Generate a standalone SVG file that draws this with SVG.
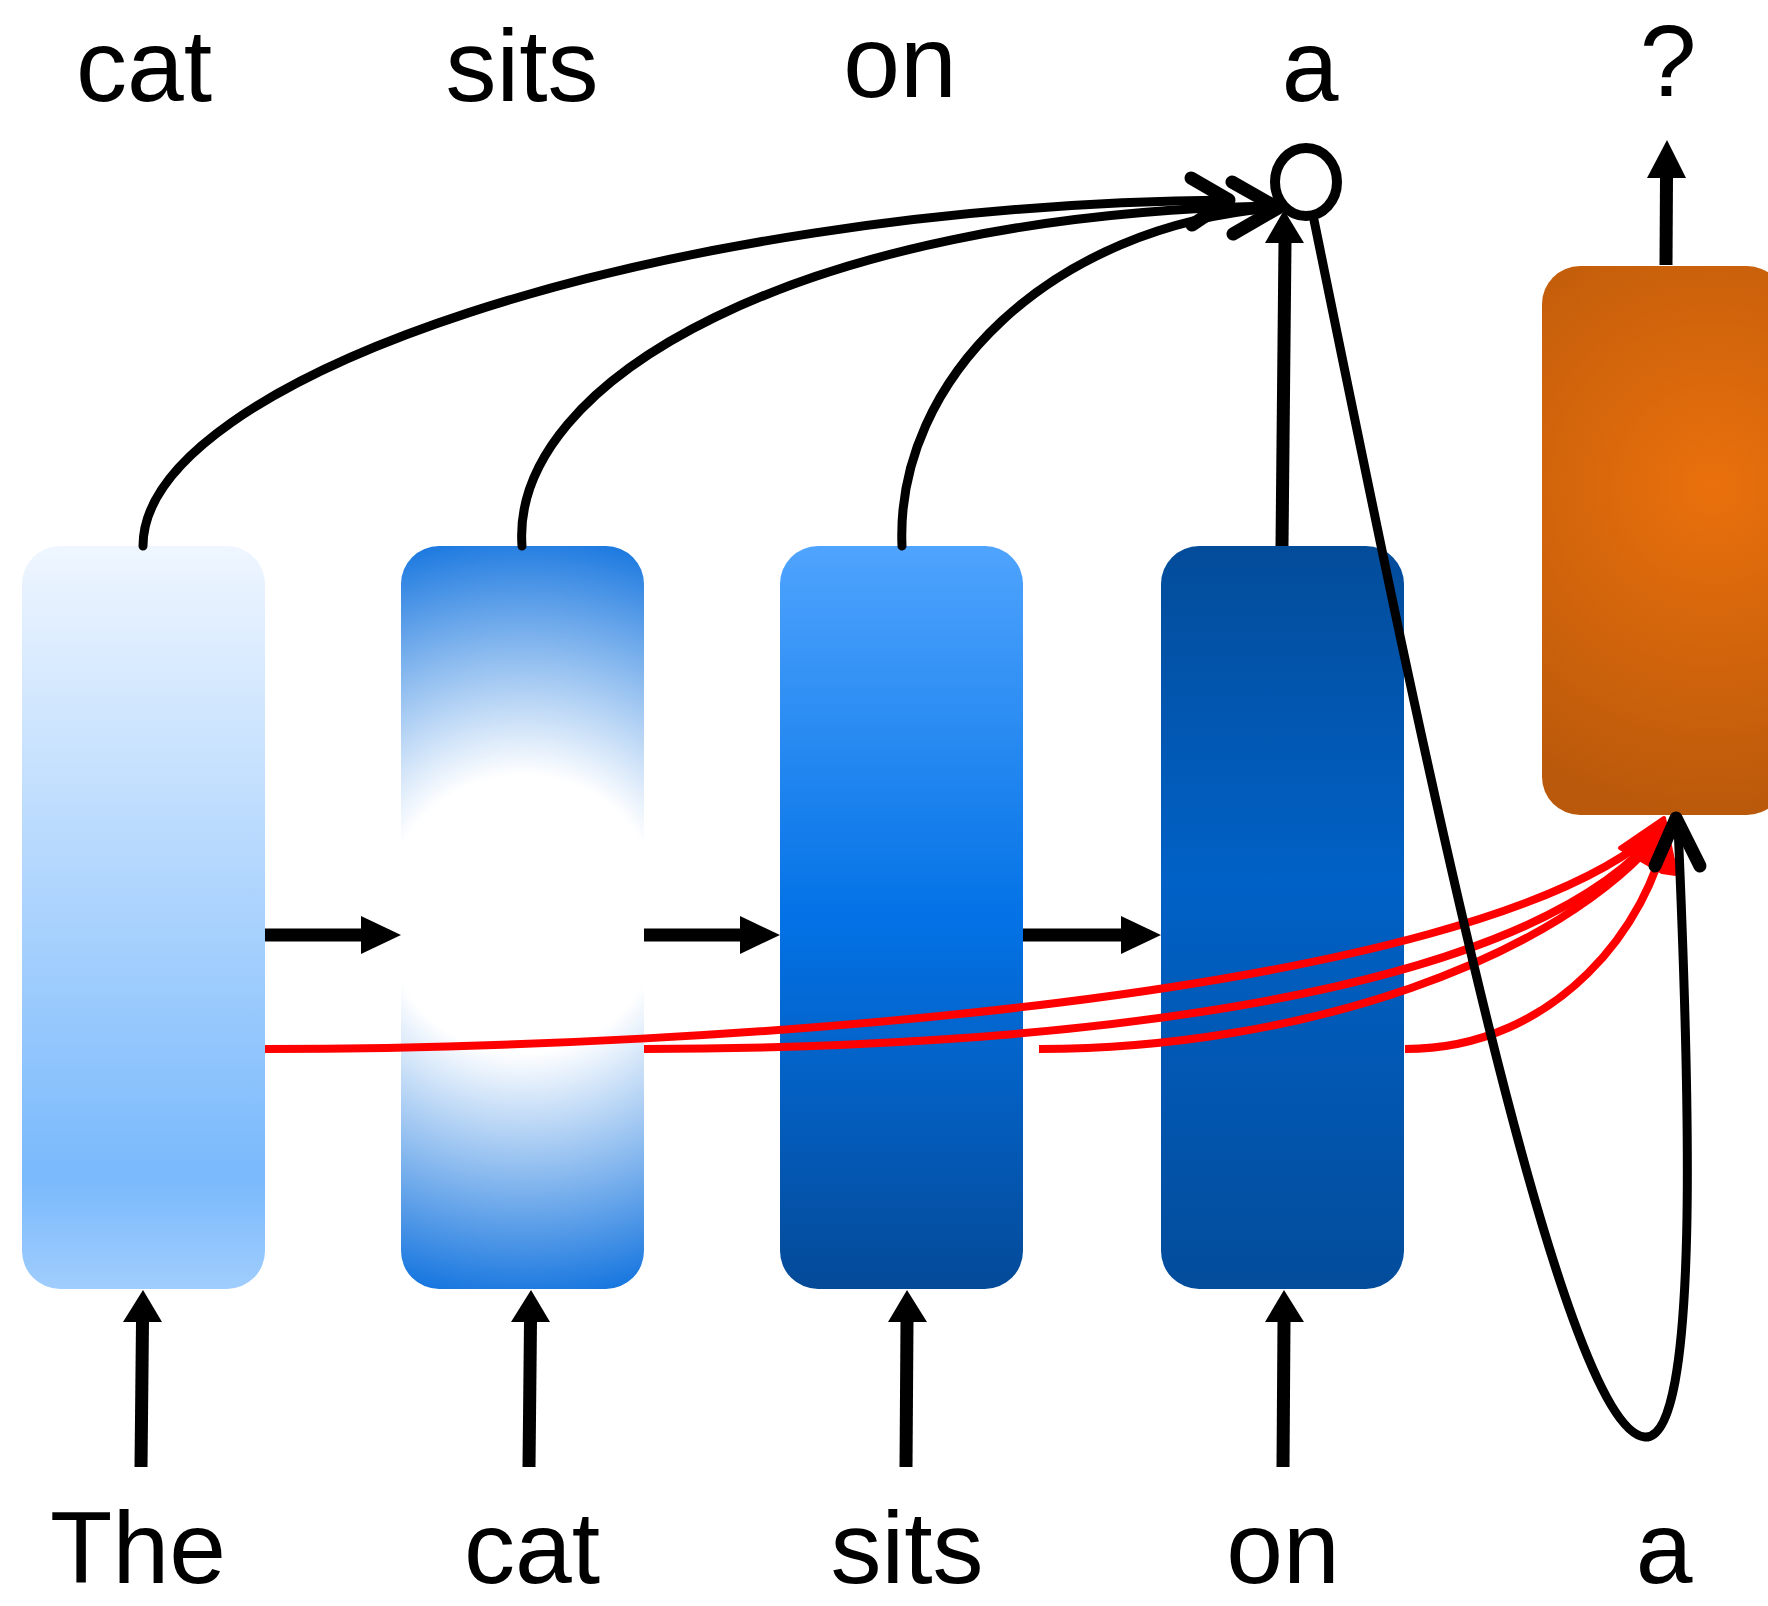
<svg xmlns="http://www.w3.org/2000/svg" width="1768" height="1606" viewBox="0 0 1768 1606">
<defs>
<linearGradient id="g1" x1="0" y1="0" x2="0" y2="1">
<stop offset="0" stop-color="#EFF6FF"/>
<stop offset="0.85" stop-color="#79B9FC"/>
<stop offset="1" stop-color="#A0CDFD"/>
</linearGradient>
<radialGradient id="g2" gradientUnits="userSpaceOnUse" cx="523" cy="914" r="385">
<stop offset="0" stop-color="#FFFFFF"/>
<stop offset="0.36" stop-color="#FFFFFF"/>
<stop offset="1" stop-color="#1776DF"/>
</radialGradient>
<linearGradient id="g3" x1="0" y1="0" x2="0" y2="1">
<stop offset="0" stop-color="#4FA4FE"/>
<stop offset="0.5" stop-color="#0372E6"/>
<stop offset="1" stop-color="#044A98"/>
</linearGradient>
<linearGradient id="g4" x1="0" y1="0" x2="0" y2="1">
<stop offset="0" stop-color="#034C9A"/>
<stop offset="0.45" stop-color="#0061C6"/>
<stop offset="1" stop-color="#034C9B"/>
</linearGradient>
<radialGradient id="g5" gradientUnits="userSpaceOnUse" cx="1712" cy="486" r="330">
<stop offset="0" stop-color="#EA700C"/>
<stop offset="1" stop-color="#BA590B"/>
</radialGradient>
<style>
.lbl{font-family:"Liberation Sans",Arial,sans-serif;font-size:102px;fill:#000;text-anchor:middle}
.blk{fill:none;stroke:#000;stroke-width:9;stroke-linecap:round}
.red{fill:none;stroke:#FF0000;stroke-width:8}
.shaft{stroke:#000;stroke-width:13}
.chev{fill:none;stroke:#000;stroke-width:13;stroke-linecap:round;stroke-linejoin:round}
</style>
</defs>
<rect width="1768" height="1606" fill="#FFFFFF"/>
<g id="box1"><rect x="22" y="546" width="243" height="743" rx="38" fill="url(#g1)"/></g>
<g id="box2"><rect x="401" y="546" width="243" height="743" rx="38" fill="url(#g2)"/></g>
<g id="box3"><rect x="780" y="546" width="243" height="743" rx="38" fill="url(#g3)"/></g>
<g id="box4"><rect x="1161" y="546" width="243" height="743" rx="38" fill="url(#g4)"/></g>
<g id="box5"><rect x="1542" y="266" width="243" height="549" rx="38" fill="url(#g5)"/></g>
<g id="labels">
<text class="lbl" x="144" y="101">cat</text>
<text class="lbl" x="522" y="101">sits</text>
<text class="lbl" x="900" y="97">on</text>
<text class="lbl" x="1310" y="101">a</text>
<text class="lbl" x="1668" y="96">?</text>
<text class="lbl" x="138" y="1583">The</text>
<text class="lbl" x="532" y="1583">cat</text>
<text class="lbl" x="907" y="1583">sits</text>
<text class="lbl" x="1283" y="1583">on</text>
<text class="lbl" x="1664" y="1583">a</text>
</g>
<g id="connectors">
<line class="shaft" x1="265" y1="935" x2="362" y2="935"/>
<polygon points="361,916 401,935 361,954"/>
<line class="shaft" x1="644" y1="935" x2="741" y2="935"/>
<polygon points="740,916 780,935 740,954"/>
<line class="shaft" x1="1023" y1="935" x2="1122" y2="935"/>
<polygon points="1121,916 1161,935 1121,954"/>
<line class="shaft" x1="141" y1="1467" x2="142.5" y2="1321"/>
<polygon points="123,1322 143,1290 162,1322"/>
<line class="shaft" x1="529" y1="1467" x2="530.5" y2="1321"/>
<polygon points="511,1322 531,1290 550,1322"/>
<line class="shaft" x1="906" y1="1467" x2="907" y2="1321"/>
<polygon points="888,1322 907,1290 927,1322"/>
<line class="shaft" x1="1283" y1="1467" x2="1284" y2="1321"/>
<polygon points="1265,1322 1284,1290 1304,1322"/>
<line class="shaft" x1="1282" y1="546" x2="1285" y2="242"/>
<polygon points="1265,243 1284,210 1304,243"/>
<line class="shaft" x1="1666" y1="265" x2="1666.5" y2="177"/>
<polygon points="1647,178 1667,140 1686,178"/>
<path class="red" d="M265,1049 C700,1049 1480,1000 1662,826"/>
<path class="red" d="M644,1049 C1000,1049 1520,1010 1662,828"/>
<path class="red" d="M1039,1049 C1300,1049 1560,960 1664,830"/>
<path class="red" d="M1405,1049 C1560,1049 1650,920 1666,832"/>
<path d="M1620,848 L1664,818 L1676,874 L1662,872 Z" fill="#FF0000" stroke="#FF0000" stroke-width="4" stroke-linejoin="round"/>
<path class="blk" d="M143,546 C143,380 650,205 1229,200"/>
<path class="blk" d="M522,546 C510,380 800,215 1270,206"/>
<path class="blk" d="M902,546 C895,380 1050,225 1276,208"/>
<path class="blk" d="M1314,220 C1420,740 1560,1430 1645,1437 C1700,1440 1690,1100 1678,826"/>
<polyline class="chev" points="1191,178 1229,200 1192,225"/>
<polyline class="chev" points="1232,182 1278,208 1233,234"/>
<polyline class="chev" points="1655,866 1676,818 1700,866"/>
</g>
<g id="circle"><ellipse cx="1306" cy="182" rx="31" ry="34" fill="#FFFFFF" stroke="#000" stroke-width="10"/></g>
</svg>
